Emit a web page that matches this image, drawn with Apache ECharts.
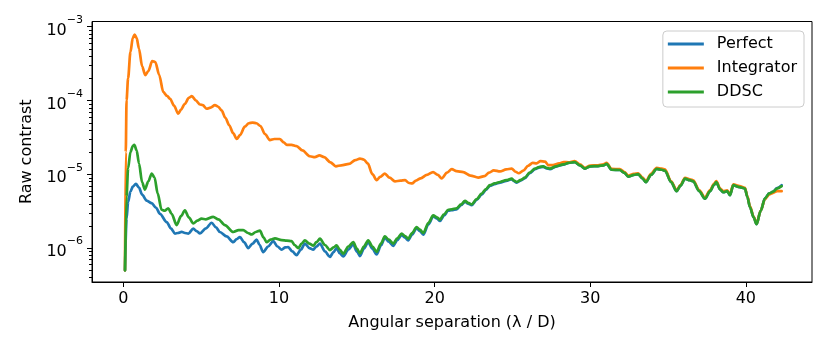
<!DOCTYPE html>
<html>
<head>
<meta charset="utf-8">
<script src="https://cdn.jsdelivr.net/npm/echarts@6/dist/echarts.min.js"></script>
<style>
  html, body { margin: 0; padding: 0; background: #fff; }
  #chart { width: 830px; height: 356px; }
</style>
</head>
<body>
<div id="chart"></div>
<script>
// ---- Data (x = angular separation in lambda/D, y = raw contrast) ----
const seriesNames = ['Perfect', 'Integrator', 'DDSC'];
const seriesColors = ['#1f77b4', '#ff7f0e', '#2ca02c'];

const xTickValues = [0, 10, 20, 30, 40];
const yMajorTickValues = [1e-6, 1e-5, 1e-4, 1e-3];

const perfect = [
  [0.1,5e-7],[0.2,2.5e-6],[0.3,4.2e-6],[0.45,5.8e-6],[0.6,6.8e-6],[0.8,7.4e-6],[1.0,6.6e-6],[1.2,5.3e-6],
  [1.49,4.4e-6],[1.81,4.05e-6],[2.1,3.5e-6],[2.35,2.9e-6],[2.78,2.25e-6],[3.05,1.85e-6],[3.31,1.57e-6],
  [3.5,1.6e-6],[3.74,1.66e-6],[3.95,1.6e-6],[4.17,1.57e-6],[4.49,1.83e-6],[4.7,1.7e-6],[4.92,1.58e-6],
  [5.3,1.85e-6],[5.67,2.2e-6],[5.95,1.9e-6],[6.2,1.65e-6],[6.63,1.44e-6],[7.06,1.2e-6],[7.28,1.32e-6],
  [7.49,1.41e-6],[7.75,1.2e-6],[8.02,1.0e-6],[8.3,1.15e-6],[8.56,1.3e-6],[8.75,1.1e-6],[8.98,8.8e-7],
  [9.3,1.05e-6],[9.63,1.24e-6],[9.9,1.05e-6],[10.17,9.5e-7],[10.4,1.02e-6],[10.59,1.03e-6],[10.85,9.0e-7],
  [11.13,8.0e-7],[11.4,9.5e-7],[11.66,1.15e-6],[11.95,1.0e-6],[12.2,9.5e-7],[12.4,1.05e-6],[12.63,1.15e-6],
  [12.95,9.0e-7],[13.27,7.6e-7],[13.5,8.8e-7],[13.7,1.0e-6],[13.9,8.5e-7],[14.13,7.7e-7],[14.45,9.5e-7],
  [14.77,1.12e-6],[15.0,9.0e-7],[15.2,7.8e-7],[15.45,9.8e-7],[15.73,1.2e-6],[16.0,9.8e-7],[16.27,8.2e-7],
  [16.55,1.08e-6],[16.8,1.38e-6],[17.05,1.22e-6],[17.34,1.07e-6],[17.6,1.28e-6],[17.88,1.5e-6],[18.1,1.38e-6],
  [18.3,1.27e-6],[18.55,1.52e-6],[18.84,1.85e-6],[19.05,1.7e-6],[19.27,1.52e-6],[19.6,2.1e-6],[19.91,2.68e-6],
  [20.15,2.5e-6],[20.34,2.33e-6],[20.6,2.75e-6],[20.87,3.2e-6],[21.1,3.25e-6],[21.41,3.35e-6],[21.7,3.8e-6],
  [21.95,4.25e-6],[22.15,4.0e-6],[22.38,3.8e-6],[22.7,4.5e-6],[23.02,5.3e-6],[23.3,6.15e-6],[23.55,6.95e-6],
  [23.85,7.35e-6],[24.2,7.7e-6],[24.6,8.15e-6],[24.95,8.55e-6],[25.1,8.05e-6],[25.27,7.7e-6],[25.55,8.25e-6],
  [25.8,8.85e-6],[26.1,1.03e-5],[26.45,1.17e-5],[26.7,1.23e-5],[26.98,1.26e-5],[27.2,1.2e-5],[27.41,1.17e-5],
  [27.8,1.27e-5],[28.27,1.35e-5],[28.6,1.42e-5],[29.0,1.46e-5],[29.34,1.32e-5],[29.66,1.19e-5],[30.0,1.28e-5],
  [30.5,1.29e-5],[30.84,1.32e-5],[31.05,1.38e-5],[31.37,1.15e-5],[31.9,1.14e-5],[32.2,1.04e-5],[32.44,9.3e-6],
  [32.8,9.8e-6],[33.08,1.0e-5],[33.35,8.8e-6],[33.58,7.8e-6],[33.9,9.8e-6],[34.27,1.18e-5],[34.6,1.15e-5],
  [34.8,1.12e-5],[35.2,7.8e-6],[35.55,5.9e-6],[35.8,7.0e-6],[36.09,8.7e-6],[36.4,8.3e-6],[36.62,8.0e-6],
  [37.0,5.9e-6],[37.37,4.65e-6],[37.7,5.9e-6],[37.95,7.2e-6],[38.1,7.8e-6],[38.35,6.2e-6],[38.55,5.7e-6],
  [38.8,5.9e-6],[38.98,5.2e-6],[39.19,7.1e-6],[39.6,6.7e-6],[39.94,6.4e-6],[40.1,4.9e-6],[40.26,3.6e-6],
  [40.5,2.6e-6],[40.69,2.1e-6],[40.95,3.2e-6],[41.23,4.7e-6],[41.5,5.5e-6],[41.76,5.8e-6],[42.0,6.5e-6],[42.3,7.1e-6]
];

const integrator = [
  [0.1,5e-7],[0.15,2e-5],[0.2,1.0e-4],[0.3,2.0e-4],[0.45,4.5e-4],[0.6,7.0e-4],[0.72,7.8e-4],[0.85,7.0e-4],
  [1.0,5.0e-4],[1.2,2.9e-4],[1.4,2.2e-4],[1.6,2.5e-4],[1.85,3.4e-4],[2.05,3.3e-4],[2.3,2.2e-4],[2.56,1.3e-4],
  [2.8,1.15e-4],[3.0,1.05e-4],[3.25,8.5e-5],[3.52,6.6e-5],[3.7,7.5e-5],[3.95,9.0e-5],[4.2,1.08e-4],[4.4,1.14e-4],
  [4.65,1.0e-4],[4.92,8.8e-5],[5.1,8.6e-5],[5.35,7.7e-5],[5.6,8.0e-5],[5.88,8.6e-5],[6.1,8.2e-5],[6.31,7.3e-5],
  [6.55,5.8e-5],[6.8,4.6e-5],[7.05,3.6e-5],[7.28,3.0e-5],[7.5,3.4e-5],[7.8,4.4e-5],[8.05,4.9e-5],[8.3,5.0e-5],
  [8.55,4.9e-5],[8.8,4.5e-5],[9.1,3.5e-5],[9.41,2.9e-5],[9.7,3.0e-5],[10.05,3.0e-5],[10.3,2.7e-5],[10.5,2.5e-5],
  [10.8,2.5e-5],[11.13,2.4e-5],[11.5,2.1e-5],[11.98,1.75e-5],[12.3,1.7e-5],[12.6,1.8e-5],[12.9,1.7e-5],
  [13.3,1.45e-5],[13.65,1.28e-5],[14.0,1.32e-5],[14.5,1.38e-5],[14.9,1.55e-5],[15.2,1.63e-5],[15.45,1.58e-5],
  [15.7,1.4e-5],[16.0,1.0e-5],[16.27,8.3e-6],[16.5,9.2e-6],[16.8,1.02e-5],[17.1,9.0e-6],[17.45,8.0e-6],
  [17.8,8.2e-6],[18.1,8.3e-6],[18.35,7.6e-6],[18.55,7.5e-6],[18.8,8.2e-6],[19.1,8.8e-6],[19.5,9.8e-6],
  [19.9,1.07e-5],[20.2,9.8e-6],[20.45,8.8e-6],[20.8,1.05e-5],[21.1,1.17e-5],[21.4,1.1e-5],[21.84,1.07e-5],
  [22.3,9.6e-6],[22.8,9.0e-6],[23.2,9.4e-6],[23.5,1.05e-5],[23.8,1.13e-5],[24.2,1.09e-5],[24.6,1.16e-5],
  [24.95,1.19e-5],[25.2,1.08e-5],[25.4,1.03e-5],[25.7,1.12e-5],[26.0,1.3e-5],[26.3,1.42e-5],[26.55,1.4e-5],
  [26.8,1.5e-5],[27.1,1.48e-5],[27.3,1.33e-5],[27.6,1.33e-5],[28.0,1.4e-5],[28.3,1.46e-5],
  [28.6,1.45e-5],[29.0,1.5e-5],[29.34,1.36e-5],[29.66,1.22e-5],[30.0,1.31e-5],[30.5,1.32e-5],[30.84,1.36e-5],
  [31.05,1.42e-5],[31.37,1.18e-5],[31.9,1.17e-5],[32.2,1.07e-5],[32.44,9.6e-6],[32.8,1.01e-5],[33.08,1.03e-5],
  [33.35,9.1e-6],[33.58,8.0e-6],[33.9,1.01e-5],[34.27,1.22e-5],[34.6,1.19e-5],[34.8,1.16e-5],[35.2,8.0e-6],
  [35.55,6.05e-6],[35.8,7.2e-6],[36.09,8.95e-6],[36.4,8.55e-6],[36.62,8.25e-6],[37.0,6.1e-6],[37.37,4.8e-6],
  [37.7,6.1e-6],[37.95,7.4e-6],[38.1,8.05e-6],[38.35,6.4e-6],[38.55,5.9e-6],[38.8,6.05e-6],[38.98,5.35e-6],
  [39.19,7.3e-6],[39.6,6.9e-6],[39.94,6.55e-6],[40.1,5.0e-6],[40.26,3.7e-6],[40.5,2.65e-6],[40.69,2.15e-6],
  [40.95,3.2e-6],[41.23,4.6e-6],[41.5,5.3e-6],[41.76,5.6e-6],[42.0,5.9e-6],[42.3,5.9e-6]
];

const ddsc = [
  [0.1,5e-7],[0.2,5e-6],[0.3,1.2e-5],[0.45,2.0e-5],[0.6,2.4e-5],[0.7,2.5e-5],[0.85,2.1e-5],[1.0,1.4e-5],
  [1.2,7.8e-6],[1.38,6.2e-6],[1.6,8.0e-6],[1.82,1.02e-5],[2.0,9.0e-6],[2.2,5.5e-6],[2.45,3.3e-6],[2.65,3.2e-6],
  [2.88,3.45e-6],[3.1,2.9e-6],[3.42,2.05e-6],[3.7,2.7e-6],[3.95,3.25e-6],[4.2,2.6e-6],[4.49,2.15e-6],
  [4.75,2.35e-6],[5.02,2.5e-6],[5.3,2.45e-6],[5.77,2.65e-6],[6.1,2.45e-6],[6.52,2.05e-6],[7.06,1.65e-6],
  [7.4,1.75e-6],[7.7,1.75e-6],[8.0,1.6e-6],[8.24,1.53e-6],[8.5,1.65e-6],[8.77,1.72e-6],[9.0,1.4e-6],
  [9.2,1.2e-6],[9.45,1.3e-6],[9.74,1.35e-6],[10.17,1.28e-6],[10.5,1.26e-6],[10.81,1.24e-6],[11.0,1.1e-6],
  [11.24,1.0e-6],[11.45,1.15e-6],[11.66,1.27e-6],[11.95,1.15e-6],[12.2,1.08e-6],[12.4,1.2e-6],[12.63,1.34e-6],
  [12.95,1.1e-6],[13.27,9.4e-7],[13.5,1.02e-6],[13.7,1.09e-6],[13.9,9.5e-7],[14.13,8.4e-7],[14.45,1.05e-6],
  [14.77,1.2e-6],[15.0,9.8e-7],[15.2,8.5e-7],[15.45,1.05e-6],[15.73,1.27e-6],[16.0,1.05e-6],[16.27,8.9e-7],
  [16.55,1.15e-6],[16.8,1.44e-6],[17.05,1.3e-6],[17.34,1.15e-6],[17.6,1.35e-6],[17.88,1.57e-6],[18.1,1.45e-6],
  [18.3,1.34e-6],[18.55,1.6e-6],[18.84,1.92e-6],[19.05,1.78e-6],[19.27,1.6e-6],[19.6,2.2e-6],[19.91,2.77e-6],
  [20.15,2.6e-6],[20.34,2.43e-6],[20.6,2.85e-6],[20.87,3.3e-6],[21.1,3.35e-6],[21.41,3.45e-6],[21.7,3.9e-6],
  [21.95,4.35e-6],[22.15,4.1e-6],[22.38,3.9e-6],[22.7,4.6e-6],[23.02,5.45e-6],[23.3,6.3e-6],[23.55,7.1e-6],
  [23.85,7.5e-6],[24.2,7.85e-6],[24.6,8.3e-6],[24.95,8.7e-6],[25.1,8.2e-6],[25.27,7.85e-6],[25.55,8.4e-6],
  [25.8,9.0e-6],[26.1,1.05e-5],[26.45,1.19e-5],[26.7,1.25e-5],[26.98,1.28e-5],[27.2,1.22e-5],[27.41,1.19e-5],
  [27.8,1.28e-5],[28.27,1.36e-5],[28.6,1.42e-5],[29.0,1.46e-5],[29.34,1.32e-5],[29.66,1.19e-5],[30.0,1.28e-5],
  [30.5,1.29e-5],[30.84,1.32e-5],[31.05,1.38e-5],[31.37,1.15e-5],[31.9,1.14e-5],[32.2,1.04e-5],[32.44,9.3e-6],
  [32.8,9.8e-6],[33.08,1.0e-5],[33.35,8.8e-6],[33.58,7.8e-6],[33.9,9.8e-6],[34.27,1.18e-5],[34.6,1.15e-5],
  [34.8,1.12e-5],[35.2,7.8e-6],[35.55,5.9e-6],[35.8,7.0e-6],[36.09,8.7e-6],[36.4,8.3e-6],[36.62,8.0e-6],
  [37.0,5.9e-6],[37.37,4.65e-6],[37.7,5.9e-6],[37.95,7.2e-6],[38.1,7.8e-6],[38.35,6.2e-6],[38.55,5.7e-6],
  [38.8,5.9e-6],[38.98,5.2e-6],[39.19,7.1e-6],[39.6,6.7e-6],[39.94,6.4e-6],[40.1,4.9e-6],[40.26,3.6e-6],
  [40.5,2.6e-6],[40.69,2.1e-6],[40.95,3.2e-6],[41.23,4.7e-6],[41.5,5.5e-6],[41.76,5.8e-6],[42.0,6.4e-6],[42.3,6.9e-6]
];

// minor ticks of the log axis (2..9 x 10^n)
const yMinorTickValues = [];
for (let n = -7; n <= -3; n++) {
  for (let k = 2; k <= 9; k++) yMinorTickValues.push(Number((k * Math.pow(10, n)).toPrecision(3)));
}

const X_MIN = -2.02, X_MAX = 44.25;
const Y_MIN = 3.47e-7, Y_MAX = 1.17e-3;
const FONT = 'DejaVu Sans';

const chart = echarts.init(document.getElementById('chart'), null, { renderer: 'canvas' });

const seriesData = [perfect, integrator, ddsc];

chart.setOption({
  animation: false,
  backgroundColor: '#ffffff',
  textStyle: { fontFamily: FONT, color: '#000' },
  grid: { left: 92, right: 18, top: 21.5, bottom: 74, show: true, borderColor: '#000', borderWidth: 1, backgroundColor: 'transparent' },
  legend: {
    data: seriesNames,
    orient: 'vertical',
    right: 26, top: 31,
    icon: 'rect', itemWidth: 36, itemHeight: 3, itemGap: 6,
    padding: [4, 7, 6, 5],
    backgroundColor: 'rgba(255,255,255,0.8)',
    borderColor: '#cccccc', borderWidth: 1, borderRadius: 4,
    textStyle: { fontFamily: FONT, fontSize: 16, color: '#000', lineHeight: 18, padding: [0, 0, 0, 8] }
  },
  xAxis: {
    type: 'value', min: X_MIN, max: X_MAX,
    name: 'Angular separation (λ / D)', nameLocation: 'middle', nameGap: 33,
    nameTextStyle: { fontFamily: FONT, fontSize: 16, color: '#000' },
    axisLine: { show: true, onZero: false, lineStyle: { color: '#000', width: 1 } },
    axisTick: { show: true, length: 5, lineStyle: { color: '#000', width: 1 }, customValues: xTickValues },
    axisLabel: { fontFamily: FONT, fontSize: 16, color: '#000', margin: 9, customValues: xTickValues },
    splitLine: { show: false }
  },
  yAxis: {
    type: 'log', logBase: 10, min: Y_MIN, max: Y_MAX,
    name: 'Raw contrast', nameLocation: 'middle', nameGap: 57, nameRotate: 90,
    nameTextStyle: { fontFamily: FONT, fontSize: 16, color: '#000' },
    axisLine: { show: true, onZero: false, lineStyle: { color: '#000', width: 1 } },
    axisTick: { show: true, length: 5, lineStyle: { color: '#000', width: 1 }, customValues: yMajorTickValues },
    axisLabel: {
      customValues: yMajorTickValues, margin: 9,
      formatter: function (v) {
        const e = Math.round(Math.log10(v));
        return '{b|10}{s|\u2212' + Math.abs(e) + '}';
      },
      rich: {
        b: { fontFamily: FONT, fontSize: 16, color: '#000', lineHeight: 24, verticalAlign: 'bottom' },
        s: { fontFamily: FONT, fontSize: 11, color: '#000', lineHeight: 11, verticalAlign: 'top' }
      }
    },
    splitLine: { show: false }
  },
  series: seriesNames.map((name, i) => ({
    name: name,
    type: 'line',
    data: seriesData[i],
    showSymbol: false, symbol: 'none',
    smooth: 0.3, smoothMonotone: 'x',
    lineStyle: { color: seriesColors[i], width: 2.7, cap: 'round', join: 'round' },
    itemStyle: { color: seriesColors[i] },
    z: 2 + i
  }))
});

// log minor ticks on the y axis, placed through the chart's own y scale
(function drawMinorTicks() {
  const axisX = chart.convertToPixel({ xAxisIndex: 0 }, X_MIN);
  const els = [];
  yMinorTickValues.forEach(v => {
    if (v < Y_MIN || v > Y_MAX) return;
    const y = Math.round(chart.convertToPixel({ yAxisIndex: 0 }, v)) + 0.5;
    els.push({
      type: 'line', silent: true, z: 10,
      shape: { x1: axisX - 3, y1: y, x2: axisX, y2: y },
      style: { stroke: '#000', lineWidth: 1 }
    });
  });
  chart.setOption({ graphic: els });
})();
</script>
</body>
</html>
